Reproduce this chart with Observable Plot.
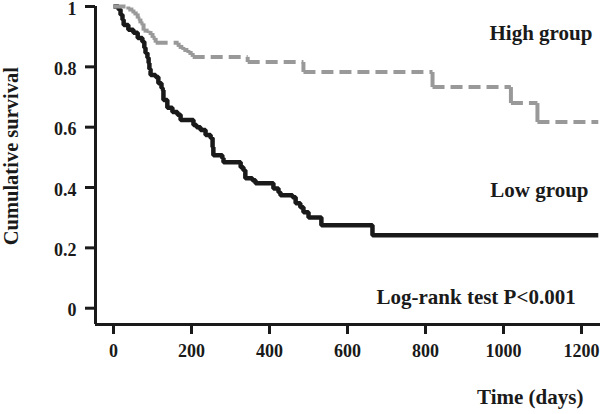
<!DOCTYPE html>
<html><head><meta charset="utf-8">
<script src="https://cdn.jsdelivr.net/npm/d3@7"></script>
<script src="https://cdn.jsdelivr.net/npm/@observablehq/plot@0.6"></script>
<style>html,body{margin:0;padding:0;background:#fff}svg{display:block}</style>
</head><body><div id="chart"></div>
<script>
// Low group (Kaplan-Meier step events)
const lowTimes = [0,13,18,23,26,38,51,62,74,79,82,87,90,92,95,108,115,123,126,128,138,151,164,172,205,213,223,236,249,254,256,279,282,326,333,338,356,364,410,423,428,459,467,479,487,500,533,664,1243];
const lowSurv  = [1,0.99,0.973,0.956,0.939,0.923,0.913,0.896,0.883,0.863,0.846,0.830,0.813,0.793,0.773,0.766,0.746,0.730,0.723,0.690,0.664,0.650,0.641,0.624,0.607,0.600,0.591,0.574,0.564,0.534,0.507,0.497,0.484,0.467,0.457,0.431,0.424,0.414,0.397,0.384,0.374,0.368,0.348,0.335,0.318,0.301,0.275,0.242,0.242];
// High group
const highTimes = [0,38,51,62,69,77,90,100,108,167,179,192,203,344,487,818,1019,1087,1243];
const highSurv  = [1,0.99,0.977,0.96,0.944,0.92,0.912,0.896,0.88,0.866,0.856,0.846,0.833,0.816,0.783,0.733,0.68,0.617,0.617];

const xTicks = [0,200,400,600,800,1000,1200];
const yTicks = [0,0.2,0.4,0.6,0.8,1];
const yTickLabels = ["0","0.2","0.4","0.6","0.8","1"];
const xDomain = [-46.2,1248.7];
const yDomain = [-0.054,1.0];
const groupLabels = ["High group","Low group"];
const testLabel = "Log-rank test P<0.001";
const xLabel = "Time (days)";
const yLabel = "Cumulative survival";

const low = lowTimes.map((t,i)=>({t, s: lowSurv[i]}));
const highH = highTimes.slice(0,-1).map((t,i)=>({t1:t, t2:highTimes[i+1], s:highSurv[i]}));
const highV = highTimes.slice(1).map((t,i)=>({t, s1:highSurv[i], s2:highSurv[i+1]})).filter(d=>d.s1!==d.s2);

const font = {fontFamily:"Liberation Serif", fontWeight:"bold", fill:"#1a1a1a"};
const labelTexts = [
  {text: groupLabels[0], t: 1228, s: 0.889},
  {text: groupLabels[1], t: 1218, s: 0.368},
  {text: testLabel, t: 1185, s: 0.0156},
  {text: xLabel, t: 1205, s: -0.317}
];

const chart = Plot.plot({
  width: 600, height: 414,
  marginLeft: 95, marginRight: 0, marginTop: 6, marginBottom: 90,
  x: {domain: xDomain, label: null},
  y: {domain: yDomain, label: null},
  style: {fontFamily: "Liberation Serif", background: "#fff", overflow: "visible"},
  marks: [
    Plot.ruleX([xDomain[0]], {y1: yDomain[0], y2: yDomain[1], stroke: "#1a1a1a", strokeWidth: 3}),
    Plot.ruleY([yDomain[0]], {x1: xDomain[0], x2: xDomain[1], stroke: "#1a1a1a", strokeWidth: 3}),
    Plot.axisX({ticks: xTicks, tickFormat: d => String(d), tickSize: 10, tickPadding: 10, strokeWidth: 3, fontSize: 18, fontWeight: "bold", fill: "#1a1a1a", stroke: "#1a1a1a", label: null}),
    Plot.axisY({ticks: yTicks, text: null, tickSize: 10, strokeWidth: 3, stroke: "#1a1a1a", label: null}),
    Plot.axisY({ticks: yTicks, tickFormat: d => yTickLabels[yTicks.indexOf(d)], tickSize: 0, tickPadding: 19, dy: 2.5, fontSize: 18, fontWeight: "bold", fill: "#1a1a1a", label: null}),
    Plot.line(low, {x: "t", y: "s", curve: "step-after", stroke: "#1a1a1a", strokeWidth: 4.5, strokeLinejoin: "miter", strokeLinecap: "butt"}),
    Plot.link(highV, {x1: "t", x2: "t", y1: "s1", y2: "s2", stroke: "#999999", strokeWidth: 4}),
    Plot.link(highH, {x1: "t1", x2: "t2", y1: "s", y2: "s", stroke: "#999999", strokeWidth: 4, strokeDasharray: "12,6"}),
    Plot.text(labelTexts, {x: "t", y: "s", text: "text", textAnchor: "end", lineAnchor: "bottom", fontSize: 21, ...font}),
    Plot.text([yLabel], {x: -261.5, y: 0.504, text: d => d, rotate: -90, textAnchor: "middle", lineAnchor: "middle", fontSize: 20.5, ...font})
  ]
});
document.getElementById("chart").appendChild(chart);
</script>
</body></html>
